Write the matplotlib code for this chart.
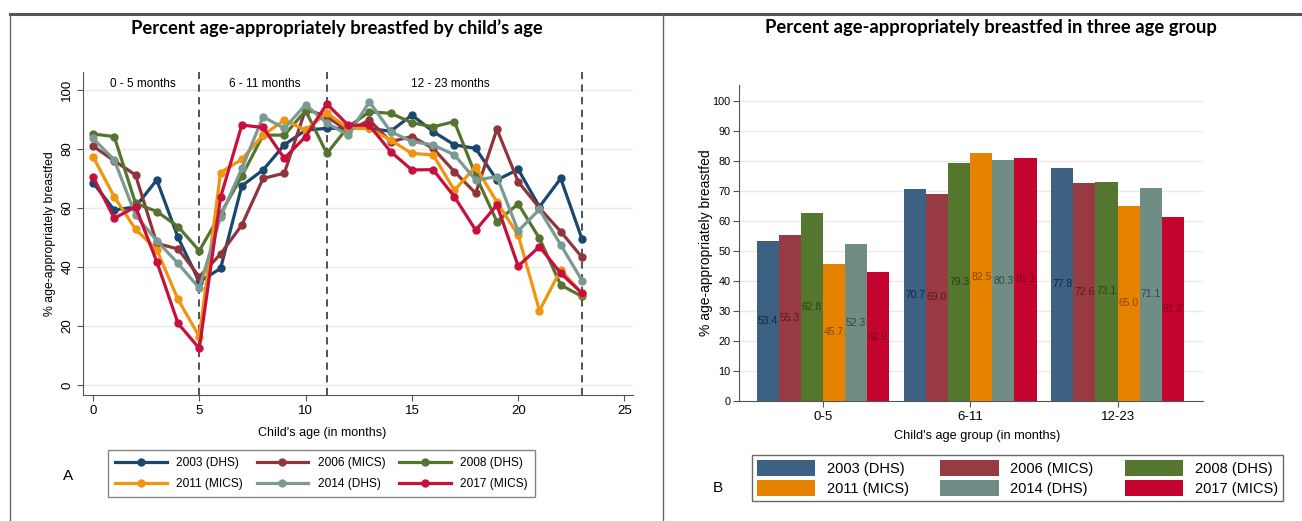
import matplotlib.pyplot as plt
from matplotlib.lines import Line2D
from matplotlib.patches import Patch
import numpy as np

plt.rcParams['font.family'] = ['Liberation Sans', 'DejaVu Sans']

# ---- data: panel A, percent by child's age in months
months = list(range(24))
dhs_2003 = [68.6, 59.3, 60.4, 69.5, 50.0, 35.0, 39.5, 67.5, 72.9, 81.4, 86.4, 87.0,
            87.0, 87.0, 86.0, 91.5, 85.9, 81.4, 80.2, 69.5, 73.1, 60.4, 70.0, 49.5]
mics_2006 = [81.0, 76.0, 71.2, 48.0, 46.1, 36.7, 44.4, 54.2, 70.0, 71.8, 93.5, 91.0,
             86.0, 89.8, 82.5, 84.2, 80.2, 72.3, 65.0, 86.7, 68.9, 60.0, 52.0, 43.3]
dhs_2008 = [85.1, 84.2, 61.6, 58.8, 53.7, 45.5, 58.0, 70.8, 84.7, 84.7, 93.0, 78.5,
            87.5, 92.6, 92.1, 88.9, 87.5, 89.3, 71.0, 55.4, 61.4, 49.7, 33.9, 30.0]
mics_2011 = [77.4, 63.8, 52.8, 45.8, 29.0, 16.4, 72.0, 76.5, 84.7, 89.8, 86.4, 92.2,
             87.0, 87.0, 83.0, 78.5, 78.0, 66.0, 74.0, 62.0, 50.8, 25.2, 39.0, 31.0]
dhs_2014 = [83.6, 76.3, 57.6, 48.9, 41.2, 32.8, 57.0, 73.4, 90.9, 87.0, 95.0, 88.8,
            84.7, 96.0, 85.9, 82.5, 81.4, 78.0, 69.5, 70.6, 52.2, 59.5, 47.5, 35.4]
mics_2017 = [70.6, 56.5, 60.4, 41.8, 20.9, 12.4, 63.6, 88.1, 87.3, 76.8, 84.2, 95.3,
             88.1, 88.0, 79.1, 72.9, 73.0, 63.8, 52.5, 61.0, 40.3, 46.9, 37.9, 31.1]

# ---- data: panel B, three age groups
age_groups = ['0-5', '6-11', '12-23']
bar_2003 = [53.4, 70.7, 77.8]
bar_2006 = [55.3, 69.0, 72.6]
bar_2008 = [62.8, 79.3, 73.1]
bar_2011 = [45.7, 82.5, 65.0]
bar_2014 = [52.3, 80.3, 71.1]
bar_2017 = [42.9, 81.1, 61.2]

labels = ['2003 (DHS)', '2006 (MICS)', '2008 (DHS)', '2011 (MICS)', '2014 (DHS)', '2017 (MICS)']
line_data = [dhs_2003, mics_2006, dhs_2008, mics_2011, dhs_2014, mics_2017]
bar_data = [bar_2003, bar_2006, bar_2008, bar_2011, bar_2014, bar_2017]

line_colors = ['#1a476f', '#90353b', '#55752f', '#f0950e', '#7b9a92', '#c8103e']
bar_colors = ['#3d6183', '#973a42', '#55762f', '#e58200', '#6f8d85', '#c4032f']
text_colors = ['#0e2a45', '#5a1a20', '#2b4214', '#8a4500', '#2f4a42', '#7a0020']

W, H = 1302, 521
fig = plt.figure(figsize=(W / 100, H / 100), dpi=100)

def fx(px):
    return px / W

def fy(py):
    return 1 - py / H

# ---- frame lines
fig.add_artist(Line2D([fx(10), 1.0], [fy(14), fy(14)], color='#555555', lw=2.2))
fig.add_artist(Line2D([fx(10), fx(10)], [0, fy(14)], color='#666666', lw=1))
fig.add_artist(Line2D([fx(663), fx(663)], [0, fy(14)], color='#666666', lw=1))

grid_c = '#e9e9e9'
axis_c = '#555555'

# ---- panel A
ax1 = fig.add_axes([fx(83), fy(395), fx(633 - 83), (395 - 72) / H])
for i in range(6):
    ax1.plot(months, line_data[i], color=line_colors[i], lw=2.3, marker='o',
             markersize=5, label=labels[i], zorder=3)
for xv in [5, 11, 23]:
    ax1.axvline(xv, color='#444444', ls=(0, (4, 3)), lw=1.3, zorder=2)
ax1.set_xlim(-0.47, 25.4)
ax1.set_ylim(-3.4, 106.1)
ax1.set_xticks([0, 5, 10, 15, 20, 25])
ax1.set_yticks([0, 20, 40, 60, 80, 100])
ax1.set_yticklabels(['0', '20', '40', '60', '80', '100'], rotation=90, va='center')
for yv in [0, 20, 40, 60, 80, 100]:
    ax1.axhline(yv, color=grid_c, lw=1, zorder=0)
ax1.tick_params(labelsize=9.5, color=axis_c, length=4, width=0.8, pad=3)
for s in ['top', 'right']:
    ax1.spines[s].set_visible(False)
for s in ['left', 'bottom']:
    ax1.spines[s].set_color(axis_c)
    ax1.spines[s].set_linewidth(0.8)
ax1.set_xlabel("Child's age (in months)", fontsize=9, labelpad=1)
ax1.xaxis.set_label_coords(0.435, -0.098)
ax1.set_ylabel('% age-appropriately breastfed', fontsize=8.8)
ax1.yaxis.set_label_coords(-0.049, 0.5)
ax1.text(2.35, 102, '0 - 5 months', ha='center', va='center', fontsize=8.5)
ax1.text(8.1, 102, '6 - 11 months', ha='center', va='center', fontsize=8.5)
ax1.text(16.8, 102, '12 - 23 months', ha='center', va='center', fontsize=8.5)

# ---- panel B
ax2 = fig.add_axes([fx(739), fy(401), fx(1203 - 739), (401 - 85) / H])
x = np.arange(len(age_groups))
bw = 0.15
for i in range(6):
    xs = x + (i - 2.5) * bw
    ax2.bar(xs, bar_data[i], width=bw, color=bar_colors[i], label=labels[i], zorder=3)
    for xx, v in zip(xs, bar_data[i]):
        ax2.text(xx, v / 2, f'{v:.1f}', ha='center', va='center', fontsize=7.5,
                 color=text_colors[i], zorder=4)
ax2.set_xlim(-0.57, 2.58)
ax2.set_ylim(0, 105.3)
ax2.set_xticks(x)
ax2.set_xticklabels(age_groups)
ax2.set_yticks(range(0, 101, 10))
for yv in range(10, 101, 10):
    ax2.axhline(yv, color=grid_c, lw=1, zorder=0)
ax2.tick_params(axis='x', labelsize=9.5, color=axis_c, length=4, width=0.8, pad=3)
ax2.tick_params(axis='y', labelsize=7.8, color=axis_c, length=4, width=0.8, pad=2)
for s in ['top', 'right']:
    ax2.spines[s].set_visible(False)
for s in ['left', 'bottom']:
    ax2.spines[s].set_color(axis_c)
    ax2.spines[s].set_linewidth(0.8)
ax2.set_xlabel("Child's age group (in months)", fontsize=9.2, labelpad=1)
ax2.xaxis.set_label_coords(0.513, -0.092)
ax2.set_ylabel('% age-appropriately breastfed', fontsize=10)
ax2.yaxis.set_label_coords(-0.057, 0.5)

# ---- titles
fig.text(fx(337), fy(28), "Percent age-appropriately breastfed by child\u2019s age",
         ha='center', va='center', fontsize=13.2, fontweight='bold', family=['Lato', 'DejaVu Sans'])
fig.text(fx(991), fy(28), 'Percent age-appropriately breastfed in three age group',
         ha='center', va='center', fontsize=13.2, fontweight='bold', family=['Lato', 'DejaVu Sans'])

# ---- legends (row-wise order)
order = [0, 3, 1, 4, 2, 5]
h1, l1 = ax1.get_legend_handles_labels()
leg1 = fig.legend([h1[k] for k in order], [l1[k] for k in order], ncol=3, loc='center',
                  bbox_to_anchor=(fx(108), fy(500), fx(535 - 108), 53 / H), mode='expand',
                  fontsize=8.6, handlelength=4.3, labelspacing=0.75, borderpad=0.6,
                  fancybox=False, edgecolor='#666666', borderaxespad=0, numpoints=1)
leg1.get_frame().set_linewidth(1)

h2 = [Patch(facecolor=c) for c in bar_colors]
leg2 = fig.legend([h2[k] for k in order], [labels[k] for k in order], ncol=3, loc='center',
                  bbox_to_anchor=(fx(752), fy(503), fx(1283 - 752), 50 / H), mode='expand',
                  fontsize=10.5, handlelength=4.0, handleheight=1.3, labelspacing=0.25,
                  borderpad=0.35, fancybox=False, edgecolor='#444444', borderaxespad=0)
leg2.get_frame().set_linewidth(1)

fig.text(fx(68), fy(476), 'A', ha='center', va='center', fontsize=11)
fig.text(fx(718), fy(488), 'B', ha='center', va='center', fontsize=11)

fig.savefig('out.png', dpi=100)
